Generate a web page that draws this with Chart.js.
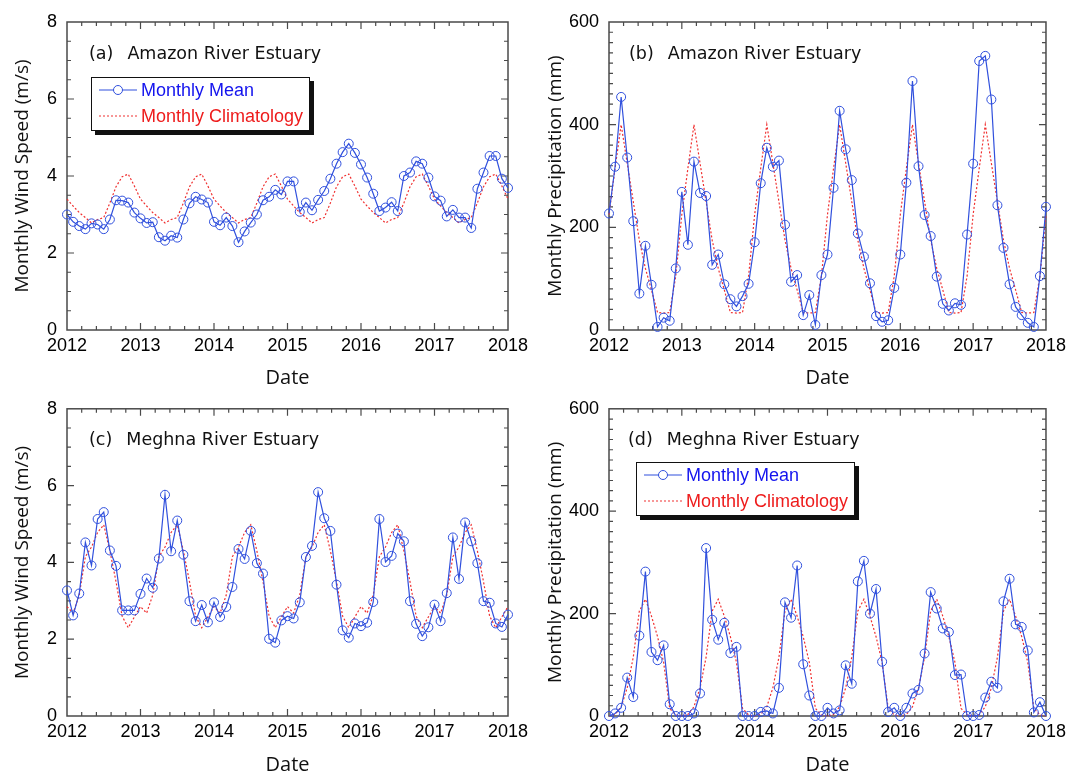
<!DOCTYPE html>
<html><head><meta charset="utf-8">
<script src="https://cdn.jsdelivr.net/npm/chart.js@4.4.0/dist/chart.umd.min.js"></script>
<style>
html,body{margin:0;padding:0;background:#fff;}
#wrap{position:relative;width:1071px;height:775px;overflow:hidden;background:#fff;}
canvas{position:absolute;}
.ttl{position:absolute;font-family:"DejaVu Sans",sans-serif;font-size:17.5px;line-height:20px;color:#111;white-space:nowrap;}
.ttl .n{margin-left:14px;}
.leg{position:absolute;width:219px;height:54px;box-sizing:border-box;border:1.5px solid #111;box-shadow:4px 4px 0 #111;background:#fff;}
.leg .t{position:absolute;left:49px;font-family:"Liberation Sans",Arial,sans-serif;font-size:18px;line-height:20px;white-space:nowrap;}
.leg svg{position:absolute;left:7px;}
</style></head>
<body><div id="wrap">
<canvas id="ca" width="535" height="388" style="left:0;top:0"></canvas>
<canvas id="cb" width="536" height="388" style="left:535px;top:0"></canvas>
<canvas id="cc" width="535" height="387" style="left:0;top:388px"></canvas>
<canvas id="cd" width="536" height="387" style="left:535px;top:388px"></canvas>

<div class="ttl" style="left:89px;top:43px"><span>(a)</span><span class="n">Amazon River Estuary</span></div>
<div class="ttl" style="left:629px;top:43px"><span>(b)</span><span class="n">Amazon River Estuary</span></div>
<div class="ttl" style="left:89px;top:429px"><span>(c)</span><span class="n">Meghna River Estuary</span></div>
<div class="ttl" style="left:628px;top:429px"><span>(d)</span><span class="n">Meghna River Estuary</span></div>

<div class="leg" style="left:91px;top:77px">
  <svg width="40" height="12" style="top:6px"><line x1="0" y1="6" x2="38" y2="6" stroke="#3050dd" stroke-width="1.2"/><circle cx="19" cy="6" r="4.5" fill="#fff" stroke="#3050dd" stroke-width="1"/></svg>
  <div class="t" style="top:2px;color:#1414ee">Monthly Mean</div>
  <svg width="40" height="12" style="top:32px"><line x1="0" y1="6" x2="38" y2="6" stroke="#f03030" stroke-width="1.2" stroke-dasharray="2,2"/></svg>
  <div class="t" style="top:28px;color:#ee1c1c">Monthly Climatology</div>
</div>
<div class="leg" style="left:636px;top:462px">
  <svg width="40" height="12" style="top:6px"><line x1="0" y1="6" x2="38" y2="6" stroke="#3050dd" stroke-width="1.2"/><circle cx="19" cy="6" r="4.5" fill="#fff" stroke="#3050dd" stroke-width="1"/></svg>
  <div class="t" style="top:2px;color:#1414ee">Monthly Mean</div>
  <svg width="40" height="12" style="top:32px"><line x1="0" y1="6" x2="38" y2="6" stroke="#f03030" stroke-width="1.2" stroke-dasharray="2,2"/></svg>
  <div class="t" style="top:28px;color:#ee1c1c">Monthly Climatology</div>
</div>
</div>
<script>
// ---- time axis: monthly, Jan 2012 .. Jan 2018 ----
const startYear = 2012;
const monthCount = 73;
const xTickYears = [2012, 2013, 2014, 2015, 2016, 2017, 2018];

// ---- (a) Amazon wind speed (m/s) ----
const meanA = [
  3.00, 2.81, 2.70, 2.62, 2.77, 2.74, 2.62, 2.87, 3.37, 3.36, 3.31, 3.05,
  2.90, 2.78, 2.80, 2.41, 2.32, 2.45, 2.40, 2.87, 3.29, 3.46, 3.39, 3.31,
  2.81, 2.72, 2.92, 2.70, 2.28, 2.56, 2.79, 3.00, 3.37, 3.46, 3.64, 3.52,
  3.86, 3.86, 3.07, 3.31, 3.11, 3.38, 3.61, 3.93, 4.32, 4.62, 4.84, 4.60,
  4.30, 3.96, 3.54, 3.09, 3.18, 3.32, 3.09, 4.00, 4.09, 4.38, 4.32, 3.96,
  3.47, 3.36, 2.95, 3.12, 2.92, 2.92, 2.65, 3.67, 4.09, 4.52, 4.52, 3.93,
  3.69
];
const climA = [
  3.40, 3.22, 3.05, 2.92, 2.78, 2.87, 2.92, 3.30, 3.72, 3.98, 4.05, 3.74,
  3.40, 3.22, 3.05, 2.92, 2.78, 2.87, 2.92, 3.30, 3.72, 3.98, 4.05, 3.74,
  3.40, 3.22, 3.05, 2.92, 2.78, 2.87, 2.92, 3.30, 3.72, 3.98, 4.05, 3.74,
  3.40, 3.22, 3.05, 2.92, 2.78, 2.87, 2.92, 3.30, 3.72, 3.98, 4.05, 3.74,
  3.40, 3.22, 3.05, 2.92, 2.78, 2.87, 2.92, 3.30, 3.72, 3.98, 4.05, 3.74,
  3.40, 3.22, 3.05, 2.92, 2.78, 2.87, 2.92, 3.30, 3.72, 3.98, 4.05, 3.74,
  3.40
];

// ---- (b) Amazon precipitation (mm) ----
const meanB = [
  227, 318, 454, 336, 212, 71, 164, 88, 6, 24, 18, 120,
  269, 166, 328, 267, 261, 127, 147, 89, 60, 46, 66, 90,
  171, 286, 355, 318, 330, 205, 94, 107, 29, 68, 10, 107,
  147, 277, 427, 352, 292, 188, 143, 91, 27, 16, 19, 82,
  147, 287, 485, 319, 224, 183, 104, 51, 38, 52, 49, 186,
  324, 524, 534, 449, 243, 160, 89, 45, 29, 14, 6, 105,
  240
];
const climB = [
  225, 315, 400, 325, 250, 175, 120, 78, 34, 33, 34, 105,
  225, 315, 400, 325, 250, 175, 120, 78, 34, 33, 34, 105,
  225, 315, 400, 325, 250, 175, 120, 78, 34, 33, 34, 105,
  225, 315, 400, 325, 250, 175, 120, 78, 34, 33, 34, 105,
  225, 315, 400, 325, 250, 175, 120, 78, 34, 33, 34, 105,
  225, 315, 400, 325, 250, 175, 120, 78, 34, 33, 34, 105,
  225
];

// ---- (c) Meghna wind speed (m/s) ----
const meanC = [
  3.27, 2.62, 3.19, 4.52, 3.92, 5.13, 5.31, 4.31, 3.91, 2.75, 2.75, 2.75,
  3.18, 3.58, 3.34, 4.10, 5.76, 4.29, 5.09, 4.20, 2.99, 2.47, 2.89, 2.44,
  2.96, 2.58, 2.84, 3.36, 4.35, 4.09, 4.82, 3.98, 3.71, 2.01, 1.91, 2.49,
  2.60, 2.54, 2.96, 4.14, 4.43, 5.83, 5.15, 4.82, 3.42, 2.23, 2.04, 2.41,
  2.34, 2.43, 2.97, 5.13, 4.01, 4.17, 4.75, 4.55, 2.99, 2.40, 2.08, 2.31,
  2.90, 2.47, 3.20, 4.65, 3.57, 5.04, 4.55, 3.98, 2.99, 2.95, 2.41, 2.32,
  2.64
];
const climC = [
  2.85, 2.68, 3.15, 4.15, 4.40, 4.78, 4.98, 4.30, 3.50, 2.60, 2.30, 2.58,
  2.85, 2.68, 3.15, 4.15, 4.40, 4.78, 4.98, 4.30, 3.50, 2.60, 2.30, 2.58,
  2.85, 2.68, 3.15, 4.15, 4.40, 4.78, 4.98, 4.30, 3.50, 2.60, 2.30, 2.58,
  2.85, 2.68, 3.15, 4.15, 4.40, 4.78, 4.98, 4.30, 3.50, 2.60, 2.30, 2.58,
  2.85, 2.68, 3.15, 4.15, 4.40, 4.78, 4.98, 4.30, 3.50, 2.60, 2.30, 2.58,
  2.85, 2.68, 3.15, 4.15, 4.40, 4.78, 4.98, 4.30, 3.50, 2.60, 2.30, 2.58,
  2.85
];

// ---- (d) Meghna precipitation (mm) ----
const meanD = [
  0, 5, 16, 75, 37, 157, 282, 125, 109, 138, 23, 0,
  0, 0, 5, 44, 328, 188, 149, 182, 123, 135, 0, 0,
  0, 8, 10, 5, 55, 222, 192, 294, 101, 40, 0, 0,
  16, 5, 11, 99, 63, 263, 303, 200, 248, 106, 8, 16,
  0, 16, 44, 51, 122, 242, 210, 171, 164, 80, 81, 0,
  0, 2, 36, 67, 55, 224, 268, 179, 174, 128, 7, 27,
  0
];
const climD = [
  0, 3, 18, 55, 115, 205, 228, 195, 155, 105, 15, 2,
  0, 3, 18, 55, 115, 205, 228, 195, 155, 105, 15, 2,
  0, 3, 18, 55, 115, 205, 228, 195, 155, 105, 15, 2,
  0, 3, 18, 55, 115, 205, 228, 195, 155, 105, 15, 2,
  0, 3, 18, 55, 115, 205, 228, 195, 155, 105, 15, 2,
  0, 3, 18, 55, 115, 205, 228, 195, 155, 105, 15, 2,
  0
];

const windTicks = [0, 2, 4, 6, 8];
const precipTicks = [0, 200, 400, 600];

// decimal-year position of each month
const dates = [];
for (let i = 0; i < monthCount; i++) dates.push(startYear + i / 12);

const BLUE = '#3050dd';
const RED = '#f03030';
const AXIS = '#4a4a4a';

// frame + inward major/minor ticks on all four sides, placed by the chart's scales
const frameTicks = {
  id: 'frameTicks',
  beforeDatasetsDraw(chart, args, o) {
    const {ctx, chartArea: a, scales: {x, y}} = chart;
    ctx.save();
    ctx.strokeStyle = AXIS;
    ctx.lineWidth = 1.5;
    ctx.strokeRect(a.left, a.top, a.right - a.left, a.bottom - a.top);
    ctx.lineWidth = 1.2;
    ctx.beginPath();
    const nx = Math.round((x.max - x.min) / o.xMinor);
    for (let i = 1; i < nx; i++) {
      const v = x.min + i * o.xMinor;
      const px = x.getPixelForValue(v);
      const major = Math.abs(v / o.xMajor - Math.round(v / o.xMajor)) < 1e-6;
      const L = major ? 7 : 4;
      ctx.moveTo(px, a.bottom); ctx.lineTo(px, a.bottom - L);
      ctx.moveTo(px, a.top); ctx.lineTo(px, a.top + L);
    }
    const ny = Math.round((y.max - y.min) / o.yMinor);
    for (let i = 1; i < ny; i++) {
      const v = y.min + i * o.yMinor;
      const py = y.getPixelForValue(v);
      const major = Math.abs(v / o.yMajor - Math.round(v / o.yMajor)) < 1e-6;
      const L = major ? 7 : 4;
      ctx.moveTo(a.left, py); ctx.lineTo(a.left + L, py);
      ctx.moveTo(a.right, py); ctx.lineTo(a.right - L, py);
    }
    ctx.stroke();
    ctx.restore();
  }
};

function makeChart(id, mean, clim, yTicksList, yMinor, yTitle, pad, yWidth, xHeight, yTitlePad) {
  const yMax = yTicksList[yTicksList.length - 1];
  const yStep = yTicksList[1] - yTicksList[0];
  const tickFont = {family: '"Liberation Sans", Arial, sans-serif', size: 18};
  new Chart(document.getElementById(id), {
    type: 'line',
    data: {
      datasets: [
        {
          label: 'Monthly Mean',
          data: mean.map((v, i) => ({x: dates[i], y: v})),
          borderColor: BLUE, borderWidth: 1.2, tension: 0,
          pointRadius: 4.5, pointBorderWidth: 1, pointBorderColor: BLUE,
          pointBackgroundColor: 'rgba(0,0,0,0)', clip: false
        },
        {
          label: 'Monthly Climatology',
          data: clim.map((v, i) => ({x: dates[i], y: v})),
          borderColor: RED, borderWidth: 1.2, borderDash: [2, 2], tension: 0,
          pointRadius: 0, clip: false
        }
      ]
    },
    options: {
      responsive: false, animation: false, devicePixelRatio: 1, events: [],
      layout: {padding: pad},
      plugins: {
        legend: {display: false}, tooltip: {enabled: false},
        frameTicks: {xMinor: 0.2, xMajor: 1, yMinor: yMinor, yMajor: yStep}
      },
      scales: {
        x: {
          type: 'linear', min: xTickYears[0], max: xTickYears[xTickYears.length - 1],
          grid: {display: false, drawTicks: false}, border: {display: false},
          ticks: {stepSize: 1, padding: 5, color: '#000', font: tickFont, maxRotation: 0, autoSkip: false,
                  callback: v => String(Math.round(v))},
          title: {display: true, text: 'Date', color: '#111',
                  font: {family: '"Open Sans", sans-serif', size: 20, lineHeight: 1}, padding: 0},
          afterFit(s) { s.height = xHeight; }
        },
        y: {
          type: 'linear', min: 0, max: yMax,
          grid: {display: false, drawTicks: false}, border: {display: false},
          ticks: {stepSize: yStep, padding: 10, color: '#000', font: tickFont},
          title: {display: true, text: yTitle, color: '#111',
                  font: {family: '"Open Sans", sans-serif', size: 19, lineHeight: 1},
                  padding: {top: yTitlePad, bottom: 0}},
          afterFit(s) { s.width = yWidth; }
        }
      }
    },
    plugins: [frameTicks]
  });
}

makeChart('ca', meanA, climA, windTicks, 0.5, 'Monthly Wind Speed (m/s)',
  {top: 22, right: 27, bottom: 0, left: 0}, 67, 58, 13.5);
makeChart('cb', meanB, climB, precipTicks, 20, 'Monthly Precipitation (mm)',
  {top: 22, right: 20, bottom: 0, left: 0}, 74, 58, 11.5);
makeChart('cc', meanC, climC, windTicks, 0.5, 'Monthly Wind Speed (m/s)',
  {top: 20, right: 27, bottom: 0, left: 0}, 67, 59, 13.5);
makeChart('cd', meanD, climD, precipTicks, 20, 'Monthly Precipitation (mm)',
  {top: 20, right: 20, bottom: 0, left: 0}, 74, 59, 11.5);
</script>
</body></html>
